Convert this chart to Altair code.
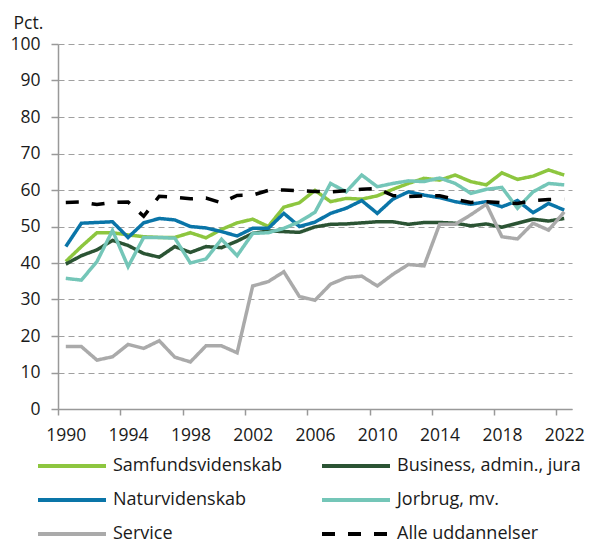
import altair as alt
import pandas as pd

years = list(range(1990, 2023))

samfund = [40.4, 44.5, 48.3, 48.3, 47.7, 47.2, 47.0, 47.0, 48.3, 46.9, 49.2, 51.0, 52.0, 50.0, 55.3, 56.5,
           59.9, 56.8, 57.7, 57.5, 58.4, 60.2, 61.8, 63.2, 62.7, 64.1, 62.3, 61.4, 64.7, 62.9, 63.8, 65.5, 64.1]
business = [39.7, 42.0, 43.6, 46.2, 44.8, 42.6, 41.6, 44.5, 42.9, 44.5, 44.2, 46.0, 48.1, 48.8, 48.6, 48.4,
            49.9, 50.6, 50.7, 51.0, 51.3, 51.3, 50.6, 51.1, 51.1, 50.9, 50.2, 50.7, 49.8, 50.9, 52.0, 51.5, 52.2]
natur = [44.5, 50.9, 51.1, 51.3, 47.0, 51.0, 52.2, 51.8, 50.0, 49.6, 48.6, 47.4, 49.5, 49.5, 53.6, 50.0,
         51.2, 53.6, 55.0, 57.1, 53.6, 57.5, 59.5, 58.6, 57.9, 56.8, 56.1, 56.8, 55.4, 57.1, 53.8, 56.3, 54.5]
jordbrug = [35.8, 35.3, 40.4, 48.9, 39.0, 47.0, 47.0, 46.8, 40.0, 41.1, 46.5, 42.0, 48.1, 48.3, 49.5, 51.3,
            53.9, 61.8, 59.5, 64.1, 60.9, 61.8, 62.5, 62.3, 63.3, 61.8, 59.1, 60.2, 60.7, 55.0, 59.5, 61.8, 61.4]
service = [17.1, 17.1, 13.4, 14.3, 17.7, 16.6, 18.7, 14.2, 12.9, 17.3, 17.3, 15.4, 33.7, 34.9, 37.6, 30.8,
           29.8, 34.2, 36.0, 36.4, 33.7, 36.9, 39.6, 39.2, 50.6, 50.6, 53.2, 56.1, 47.2, 46.6, 50.9, 49.0, 54.0]
alle = [56.6, 56.7, 56.0, 56.6, 56.7, 52.8, 58.3, 58.0, 57.6, 57.8, 56.5, 58.5, 58.6, 59.9, 60.0, 59.8,
        59.6, 59.5, 59.8, 60.2, 60.4, 58.5, 58.2, 58.4, 58.4, 57.4, 56.6, 56.8, 56.5, 56.3, 57.1, 57.4, 57.5]

series_names = ["Samfundsvidenskab", "Business, admin., jura", "Naturvidenskab",
                "Jorbrug, mv.", "Service", "Alle uddannelser"]
series_values = [samfund, business, natur, jordbrug, service, alle]
series_colors = ["#8dc63f", "#2b5434", "#0a75a8", "#74c6b8", "#aaaaaa", "#000000"]
series_dashes = [[1, 0], [1, 0], [1, 0], [1, 0], [1, 0], [13, 13]]
tick_years = list(range(1990, 2023, 4))

# legend fills columns first: reorder so that rows read like the reference
legend_order = [0, 2, 4, 1, 3, 5]
dom = [series_names[i] for i in legend_order]
rng_c = [series_colors[i] for i in legend_order]
rng_d = [series_dashes[i] for i in legend_order]

rows = []
for name, vals in zip(series_names, series_values):
    for y, v in zip(years, vals):
        rows.append({"year": y, "xpos": y + 0.5, "series": name, "value": v})
df = pd.DataFrame(rows)

font = "Open Sans"
axis_grey = "#999999"

chart = alt.Chart(df).mark_line(strokeWidth=3.5).encode(
    x=alt.X("xpos:Q",
            scale=alt.Scale(domain=[1990, 2023], nice=False, zero=False),
            axis=alt.Axis(values=tick_years, title=None, grid=False, labelOffset=7.8,
                          labelOverlap=False, labelFlush=False, labelBound=False,
                          format="d", tickSize=6, labelPadding=11,
                          domainColor=axis_grey, tickColor=axis_grey, domainWidth=1.5, tickWidth=1.5)),
    y=alt.Y("value:Q",
            scale=alt.Scale(domain=[0, 100], nice=False),
            axis=alt.Axis(values=list(range(0, 101, 10)), title="Pct.", titleAngle=0,
                          titleAlign="left", titleBaseline="alphabetic", titleX=-45, titleY=-16,
                          titleFontWeight="normal", grid=True, gridDash=[6, 4], gridColor="#a0a0a0",
                          gridWidth=1.2, tickSize=7, labelPadding=11, labelOverlap=False,
                          domainColor=axis_grey, tickColor=axis_grey, domainWidth=1.5, tickWidth=1.5)),
    color=alt.Color("series:N",
                    scale=alt.Scale(domain=dom, range=rng_c),
                    legend=alt.Legend(title=None, orient="none", legendX=-22, legendY=410,
                                      columns=2, columnPadding=31, rowPadding=13,
                                      symbolType="M-1,0L5.8,0", symbolSize=400, symbolStrokeWidth=4,
                                      labelFontSize=18, labelOffset=53, labelLimit=320, padding=0)),
    strokeDash=alt.StrokeDash("series:N",
                              scale=alt.Scale(domain=dom, range=rng_d),
                              legend=None),
    order=alt.Order("year:Q"),
).properties(
    width=514, height=365,
    autosize=alt.AutoSizeParams(type="none"),
    padding={"left": 50, "top": 36, "right": 15, "bottom": 134},
).configure(
    font=font,
).configure_axis(
    labelFont=font, titleFont=font, labelFontSize=17.5, titleFontSize=17.5,
    labelColor="#1a1a1a", titleColor="#1a1a1a",
).configure_legend(
    labelFont=font, labelColor="#1a1a1a",
).configure_view(stroke=None)

chart.save("out.html", embed_options={"renderer": "svg", "actions": False})
